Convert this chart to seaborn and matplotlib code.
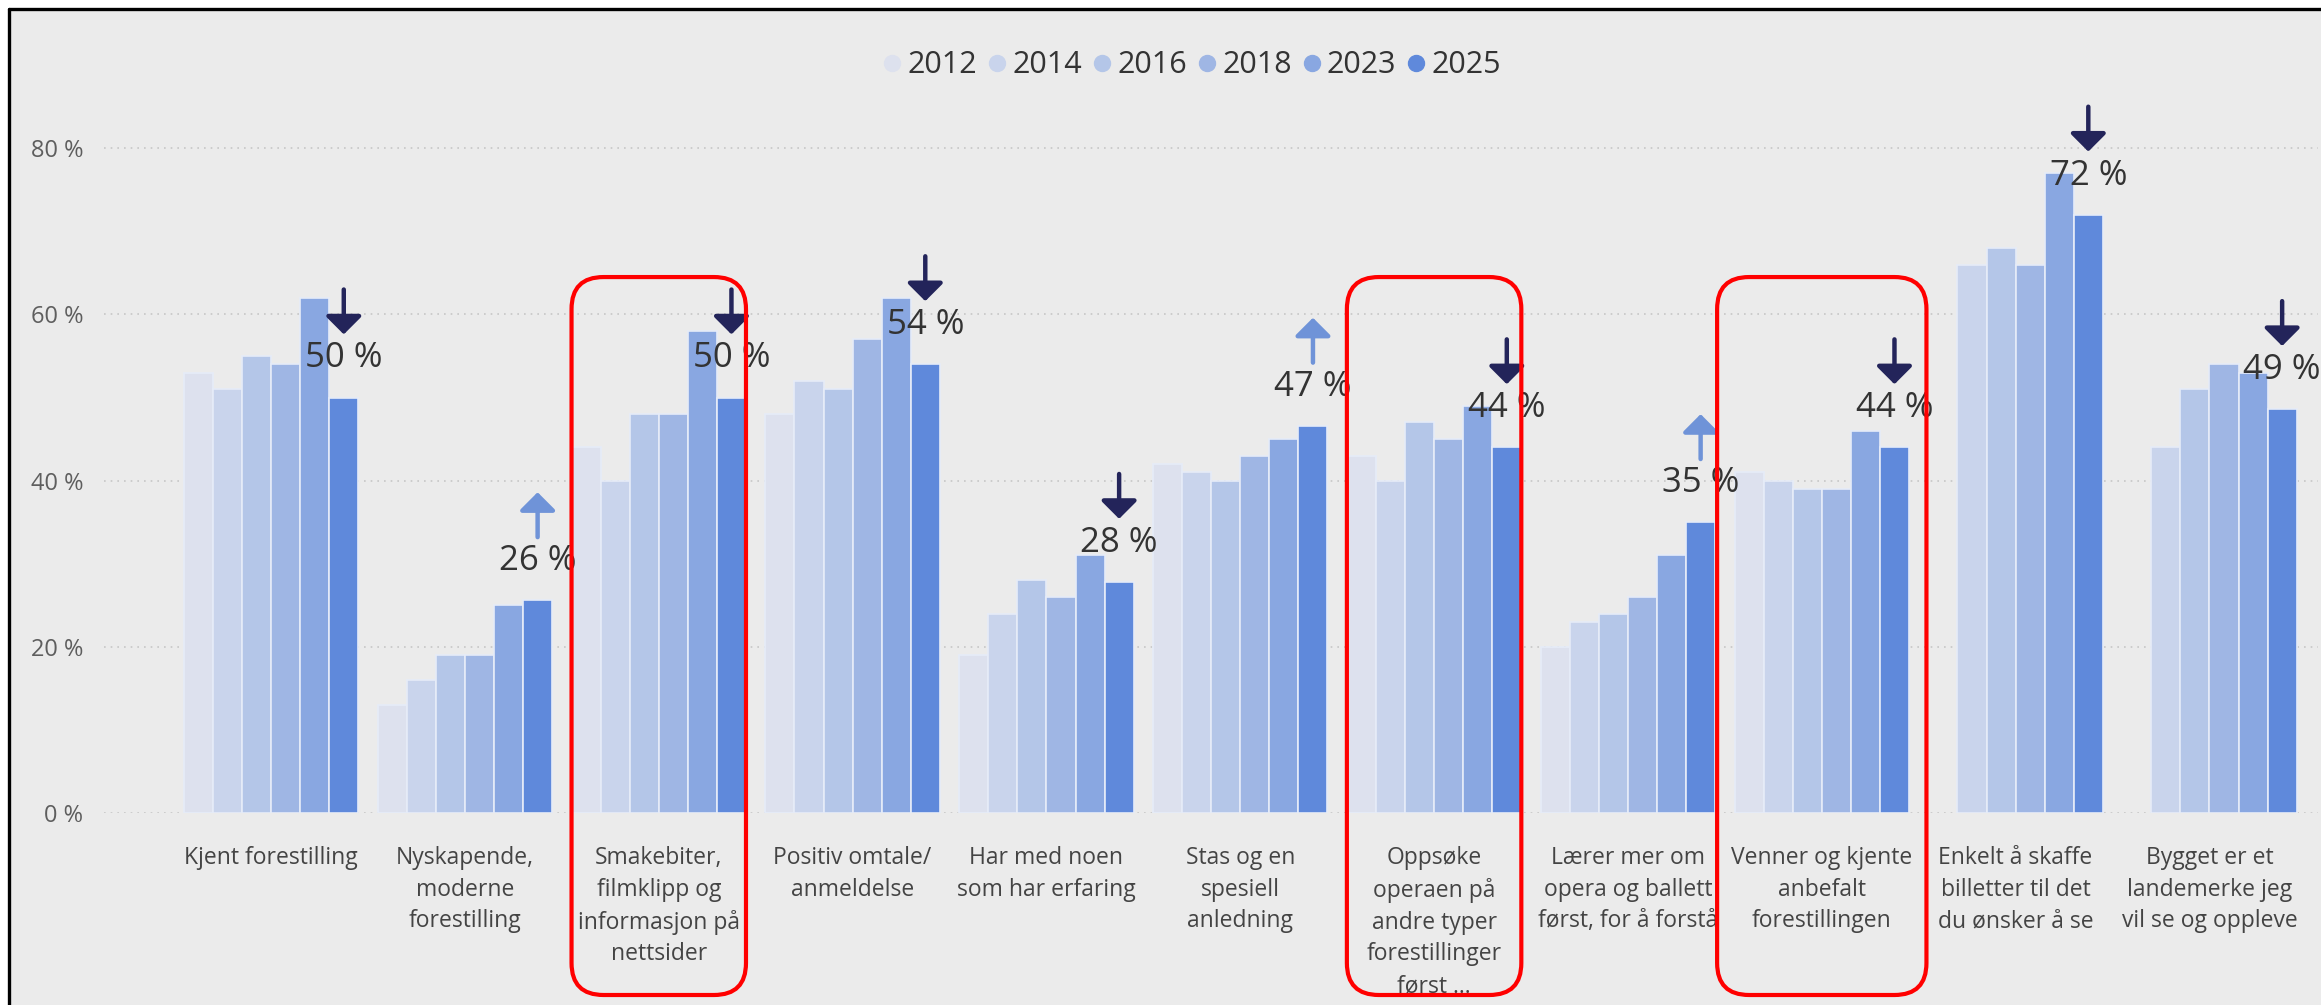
import numpy as np
import pandas as pd
import seaborn as sns
import matplotlib
matplotlib.use('Agg')
import matplotlib.pyplot as plt
from matplotlib.patches import FancyBboxPatch, Rectangle
from matplotlib.lines import Line2D
from matplotlib.ticker import FuncFormatter
from matplotlib.transforms import IdentityTransform

# --- data ---
categories = [
    "Kjent forestilling",
    "Nyskapende,\nmoderne\nforestilling",
    "Smakebiter,\nfilmklipp og\ninformasjon på\nnettsider",
    "Positiv omtale/\nanmeldelse",
    "Har med noen\nsom har erfaring",
    "Stas og en\nspesiell\nanledning",
    "Oppsøke\noperaen på\nandre typer\nforestillinger\nførst ...",
    "Lærer mer om\nopera og ballett\nførst, for å forstå",
    "Venner og kjente\nanbefalt\nforestillingen",
    "Enkelt å skaffe\nbilletter til det\ndu ønsker å se",
    "Bygget er et\nlandemerke jeg\nvil se og oppleve",
]
years = ["2012", "2014", "2016", "2018", "2023", "2025"]
v2012 = [53, 13, 44, 48, 19, 42, 43, 20, 41, np.nan, np.nan]
v2014 = [51, 16, 40, 52, 24, 41, 40, 23, 40, 66, 44]
v2016 = [55, 19, 48, 51, 28, 40, 47, 24, 39, 68, 51]
v2018 = [54, 19, 48, 57, 26, 43, 45, 26, 39, 66, 54]
v2023 = [62, 25, 58, 62, 31, 45, 49, 31, 46, 77, 53]
v2025 = [50, 25.6, 50, 54, 27.8, 46.6, 44, 35, 44, 72, 48.6]
highlighted = [2, 6, 8]

colors = ["#dde1ee", "#c9d4ec", "#b4c6e8", "#9fb6e4", "#89a7e1", "#5f89db"]
up_color = "#6f93d8"
down_color = "#23245a"
bg = "#ebebeb"

series = [v2012, v2014, v2016, v2018, v2023, v2025]
rows = []
for yr, vals in zip(years, series):
    for cat, v in zip(categories, vals):
        rows.append({"kategori": cat, "år": yr, "andel": v})
df = pd.DataFrame(rows).dropna()

sns.set_theme(style="white")
plt.rcParams["font.family"] = ["Open Sans", "DejaVu Sans"]

W, H, DPI = 2321, 1005, 100
fig = plt.figure(figsize=(W / DPI, H / DPI), dpi=DPI, facecolor="white")

# grey panel with black frame top/left
fig.patches.append(Rectangle((9 / W, 0), 1, 1 - 9 / H, transform=fig.transFigure,
                             facecolor=bg, edgecolor="none", zorder=-5))
fig.lines.append(Line2D([9 / W, 1], [1 - 9 / H] * 2, transform=fig.transFigure,
                        color="black", lw=2.4))
fig.lines.append(Line2D([9 / W] * 2, [0, 1 - 9 / H], transform=fig.transFigure,
                        color="black", lw=2.4))

ax = fig.add_axes([104 / W, 1 - 813 / H, (2318 - 104) / W, (813 - 120) / H])
ax.set_facecolor("none")

sns.barplot(data=df, x="kategori", y="andel", hue="år", order=categories,
            hue_order=years, palette=colors, saturation=1, width=0.9,
            errorbar=None, edgecolor="#e6ecf8", linewidth=1.2, legend=False, ax=ax)

ax.set_xlim(-0.862, 10.56)
ax.set_ylim(0, 83.4)
ax.set_yticks([0, 20, 40, 60, 80])
ax.yaxis.set_major_formatter(FuncFormatter(lambda v, p: f"{v:.0f} %"))
ax.yaxis.grid(True, linestyle=(0, (1, 3)), color="#c6c6c6", linewidth=1.2)
ax.set_axisbelow(True)
for s in ax.spines.values():
    s.set_visible(False)
ax.set_xlabel("")
ax.set_ylabel("")
ax.tick_params(axis="y", length=0, pad=15, labelsize=17, labelcolor="#5e5e5e")
ax.tick_params(axis="x", length=0, pad=24, labelsize=16.5, labelcolor="#444444")
for lbl in ax.get_xticklabels():
    lbl.set_linespacing(1.42)

# value labels and trend arrows above the 2025 bars
last = ax.containers[-1]
for i, bar in enumerate(last):
    cx = bar.get_x() + bar.get_width() / 2
    v = v2025[i]
    ax.text(cx, v + 4.7, f"{v:.0f} %", ha="center", va="center",
            fontsize=25, color="#333333", zorder=5)
    if v >= v2023[i]:
        tail, tip, c = v + 7.6, v + 13.0, up_color
    else:
        tail, tip, c = v + 13.0, v + 7.6, down_color
    ax.annotate("", xy=(cx, tip), xytext=(cx, tail),
                arrowprops=dict(arrowstyle="-|>,head_length=0.55,head_width=0.55",
                                color=c, lw=3.2, shrinkA=0, shrinkB=0,
                                mutation_scale=20), zorder=6)

# red highlight boxes
for i in highlighted:
    hw = 0.54 if i == 8 else 0.45
    x0, y1 = ax.transData.transform((i - hw, 64.5))
    x1, _ = ax.transData.transform((i + hw, 0))
    y0 = 10
    box = FancyBboxPatch((x0, y0), x1 - x0, y1 - y0,
                         boxstyle="round,pad=0,rounding_size=32",
                         transform=IdentityTransform(), facecolor="none",
                         edgecolor="#ff0000", linewidth=3, zorder=10)
    fig.patches.append(box)

handles = [Line2D([], [], marker="o", linestyle="", markersize=11.5,
                  markerfacecolor=c, markeredgecolor=c) for c in colors]
fig.legend(handles, years, loc="center", bbox_to_anchor=(0.513, 0.935), ncol=6,
           frameon=False, fontsize=22, handlelength=0.8, handletextpad=0.1,
           columnspacing=0.25, labelcolor="#333333")

fig.savefig("out.png", dpi=DPI, facecolor=fig.get_facecolor())
